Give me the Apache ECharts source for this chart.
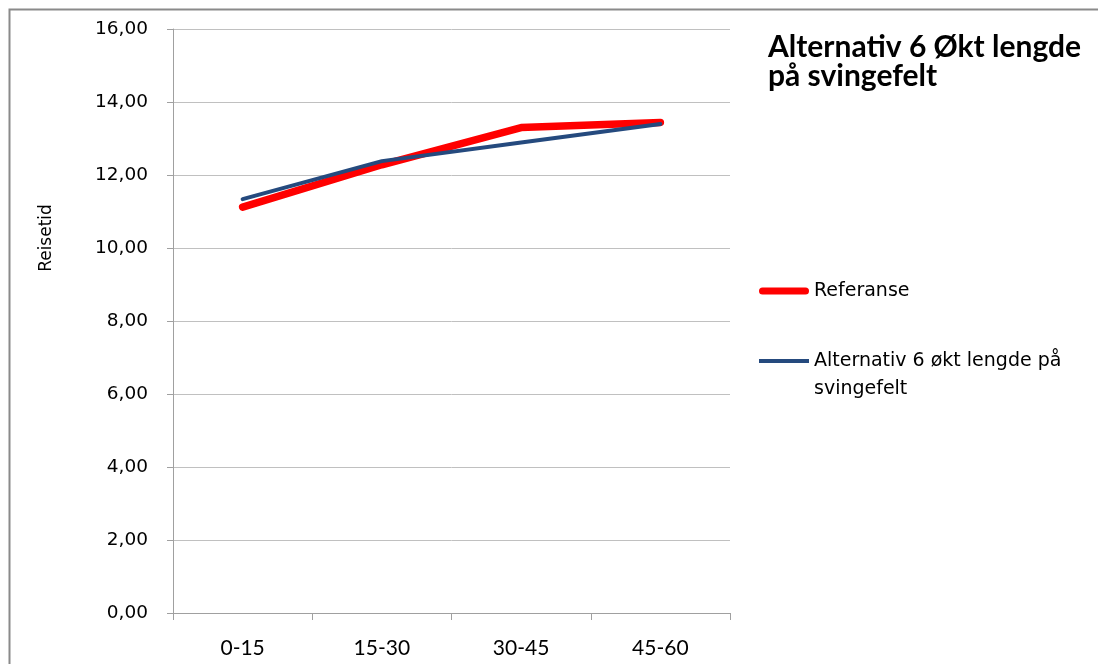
<!DOCTYPE html>
<html>
<head>
<meta charset="utf-8">
<script src="https://cdn.jsdelivr.net/npm/echarts@6/dist/echarts.min.js"></script>
<style>
html,body{margin:0;padding:0;background:#fff;}
#chart{width:1098px;height:664px;}
</style>
</head>
<body>
<div id="chart"></div>
<script>
const categories = ['0-15', '15-30', '30-45', '45-60'];
const referanse = [11.12, 12.28, 13.30, 13.44];
const alternativ6 = [11.34, 12.38, 12.89, 13.40];
const yTicks = { min: 0, max: 16, interval: 2 };
const seriesNames = ['Referanse', 'Alternativ 6 økt lengde på\nsvingefelt'];
const titleText = 'Alternativ 6 Økt lengde\npå svingefelt';
const yAxisTitle = 'Reisetid';

const chart = echarts.init(document.getElementById('chart'), null, { renderer: 'canvas' });
const sans = 'Lato';
const wide = 'DejaVu Sans';
const option = {
  backgroundColor: '#ffffff',
  animation: false,
  title: {
    text: titleText,
    left: 768,
    top: 33,
    padding: 0,
    textStyle: { fontFamily: sans, fontWeight: 'bold', fontSize: 30, lineHeight: 29, color: '#000' }
  },
  legend: {
    data: [
      { name: seriesNames[0], icon: 'path://M3.5,0 L46.5,0 A3.5,3.5 0 0 1 46.5,7 L3.5,7 A3.5,3.5 0 0 1 3.5,0 Z' },
      { name: seriesNames[1], icon: 'path://M0,0 L48,0 L48,4 L0,4 Z' }
    ],
    orient: 'vertical',
    left: 759,
    top: 277,
    padding: 0,
    itemWidth: 50,
    itemHeight: 14,
    itemGap: 14,
    symbolKeepAspect: true,
    formatter: name => (name === seriesNames[1] ? '\n' + name : name),
    textStyle: { fontFamily: wide, fontSize: 19, color: '#000', lineHeight: 28 }
  },
  grid: { left: 173, right: 368, top: 29, bottom: 51, containLabel: false },
  xAxis: {
    type: 'category',
    data: categories,
    boundaryGap: true,
    axisLine: { lineStyle: { color: '#a0a0a0', width: 1 } },
    axisTick: { show: true, length: 7, lineStyle: { color: '#a0a0a0' } },
    axisLabel: { fontFamily: sans, fontSize: 21, color: '#000', margin: 25 },
    splitLine: { show: false }
  },
  yAxis: {
    type: 'value',
    min: yTicks.min,
    max: yTicks.max,
    interval: yTicks.interval,
    axisLine: { show: true, lineStyle: { color: '#a0a0a0', width: 1 } },
    axisTick: { show: true, length: 6, lineStyle: { color: '#a0a0a0' } },
    axisLabel: {
      fontFamily: wide, fontSize: 18.5, color: '#000', margin: 25,
      formatter: v => v.toFixed(2).replace('.', ',')
    },
    splitLine: { show: true, lineStyle: { color: '#c0c0c0', width: 1 } }
  },
  series: [
    {
      name: seriesNames[0],
      type: 'line',
      data: referanse,
      symbol: 'none',
      lineStyle: { color: '#ff0000', width: 7.5, cap: 'round', join: 'round' },
      itemStyle: { color: '#ff0000' },
      z: 2
    },
    {
      name: seriesNames[1],
      type: 'line',
      data: alternativ6,
      symbol: 'none',
      lineStyle: { color: '#254a7e', width: 4, cap: 'round', join: 'round' },
      itemStyle: { color: '#254a7e' },
      z: 3
    }
  ],
  graphic: [
    {
      type: 'rect',
      silent: true,
      shape: { x: 9.5, y: 9.5, width: 3000, height: 3000 },
      style: { fill: 'none', stroke: '#8a8a8a', lineWidth: 2 },
      z: 100
    },
    {
      type: 'text',
      x: 47,
      y: 238,
      rotation: Math.PI / 2,
      style: {
        text: yAxisTitle, fontFamily: wide, fontSize: 17, fill: '#000',
        align: 'center', verticalAlign: 'middle'
      }
    }
  ]
};
chart.setOption(option);
</script>
</body>
</html>
